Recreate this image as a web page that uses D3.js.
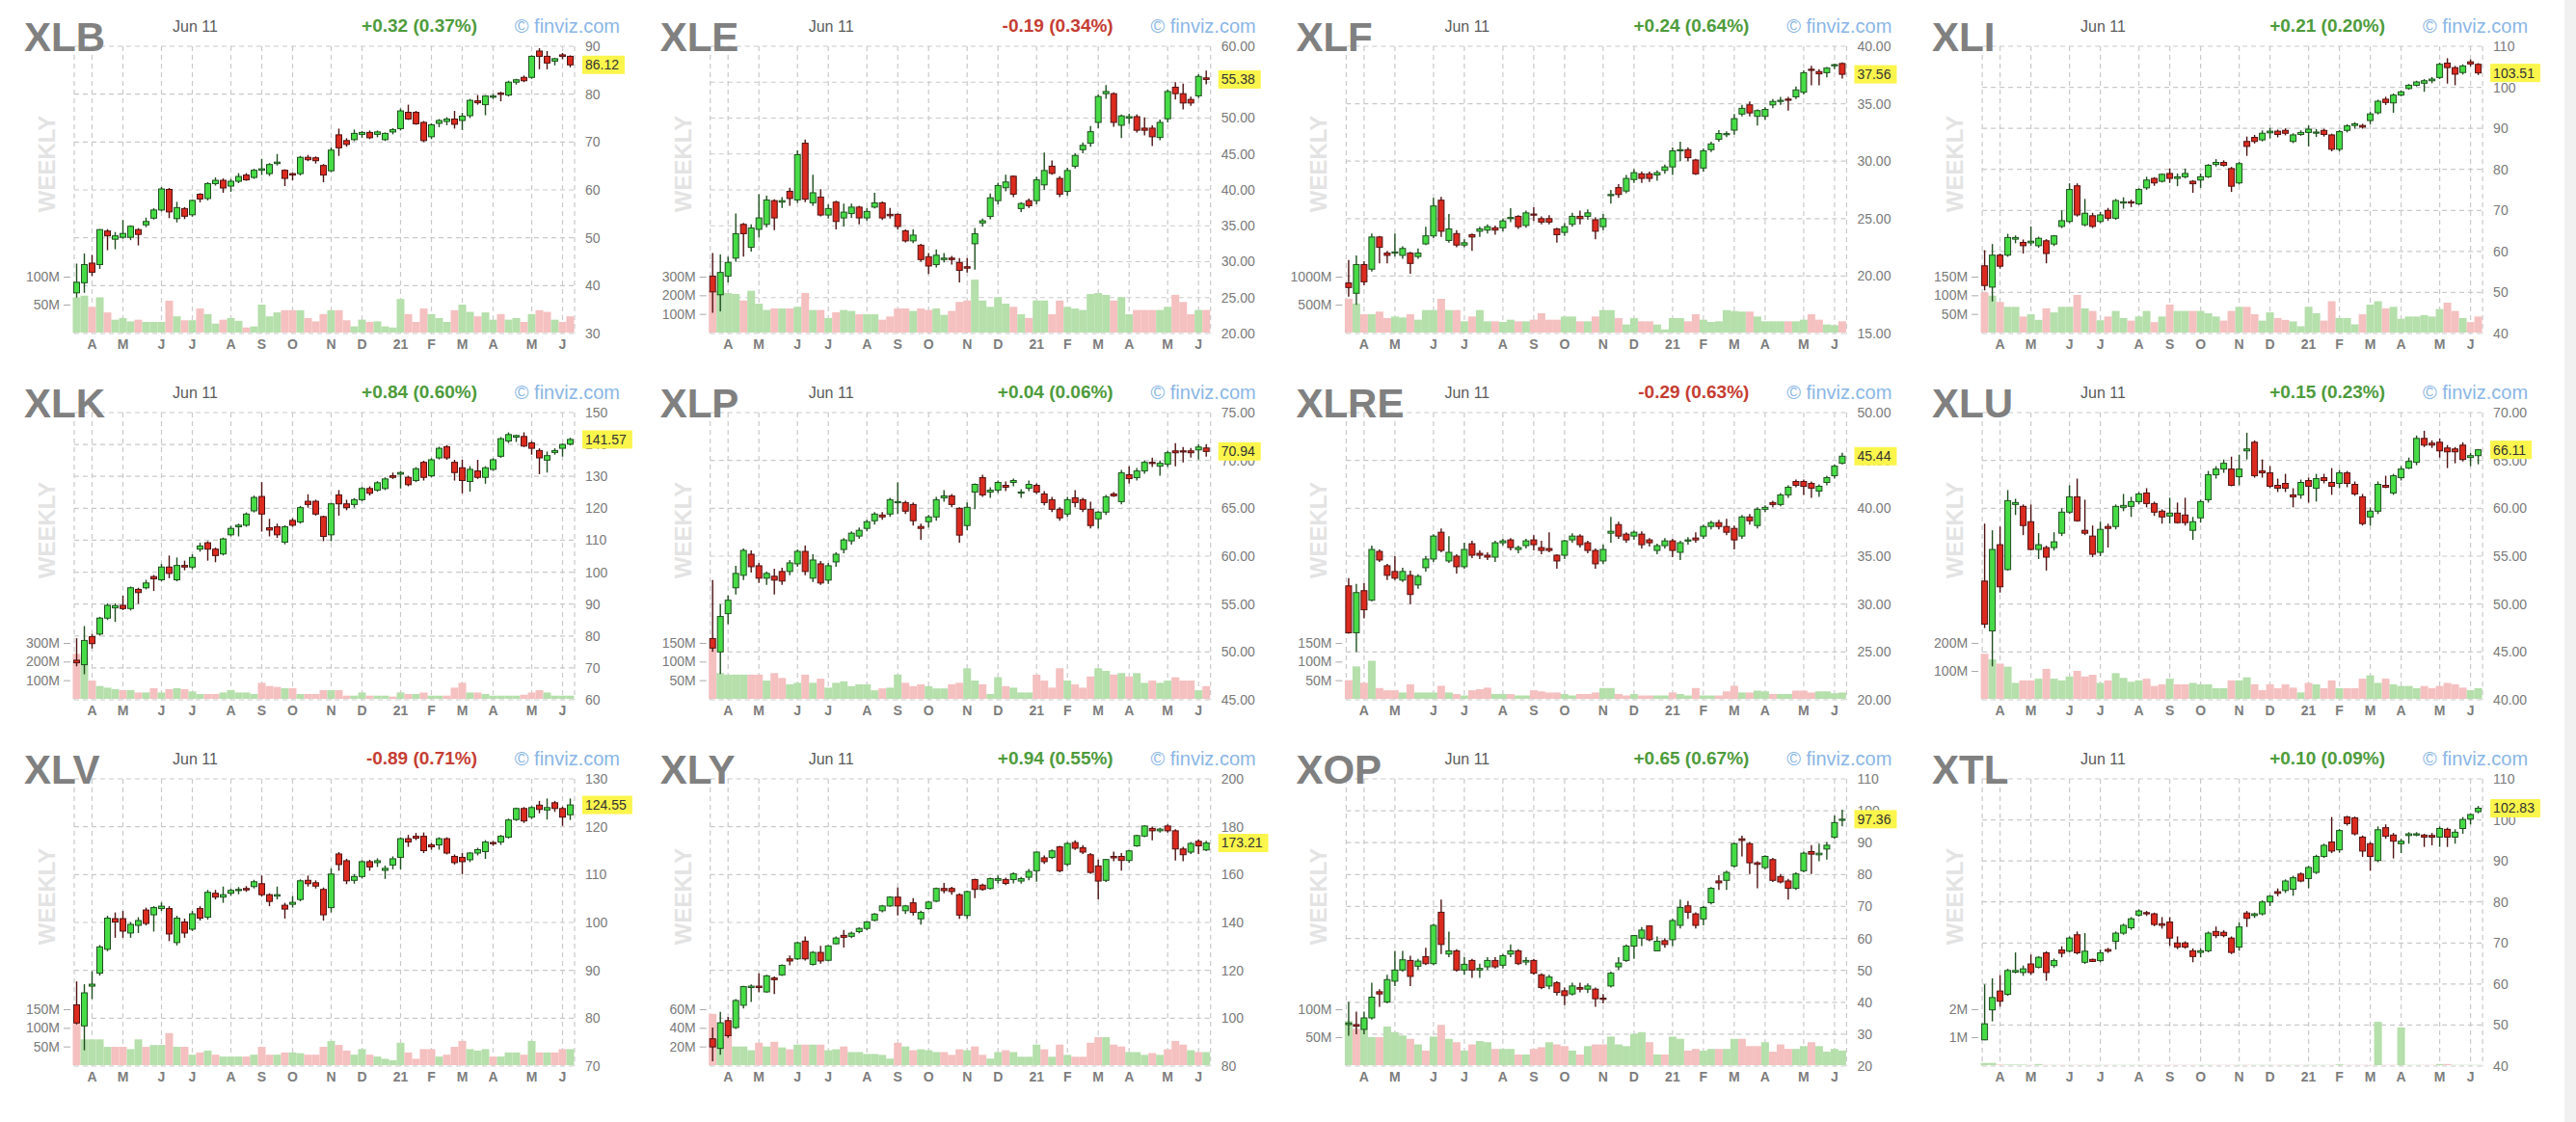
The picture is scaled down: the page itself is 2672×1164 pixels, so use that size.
<!DOCTYPE html>
<html>
<head>
<meta charset="utf-8">
<script src="https://cdn.jsdelivr.net/npm/d3@7"></script>
<style>
body { margin: 0; background: #fff; }
svg { display: block; }
</style>
</head>
<body>
<script>
const W = 2672;
const H = 1164;

// weekly bars, first Monday 2020-03-16, last Monday 2021-06-07
const firstWeek = new Date(2020, 2, 16);
const endWeek = new Date(2021, 5, 8);
const monthKeys = ["2020-03-30", "2020-04-27", "2020-06-01", "2020-06-29", "2020-08-03", "2020-08-31", "2020-09-28",
  "2020-11-02", "2020-11-30", "2021-01-04", "2021-02-01", "2021-03-01", "2021-03-29", "2021-05-03", "2021-05-31"];
const monthLabels = ["A", "M", "J", "J", "A", "S", "O", "N", "D", "21", "F", "M", "A", "M", "J"];

const tickers = ["XLB", "XLE", "XLF", "XLI", "XLK", "XLP", "XLRE", "XLU", "XLV", "XLY", "XOP", "XTL"];
const changes = ["+0.32 (0.37%)", "-0.19 (0.34%)", "+0.24 (0.64%)", "+0.21 (0.20%)", "+0.84 (0.60%)", "+0.04 (0.06%)",
  "-0.29 (0.63%)", "+0.15 (0.23%)", "-0.89 (0.71%)", "+0.94 (0.55%)", "+0.65 (0.67%)", "+0.10 (0.09%)"];
const priceTicks = [
  [30, 40, 50, 60, 70, 80, 90],
  [20, 25, 30, 35, 40, 45, 50, 55, 60],
  [15, 20, 25, 30, 35, 40],
  [40, 50, 60, 70, 80, 90, 100, 110],
  [60, 70, 80, 90, 100, 110, 120, 130, 140, 150],
  [45, 50, 55, 60, 65, 70, 75],
  [20, 25, 30, 35, 40, 45, 50],
  [40, 45, 50, 55, 60, 65, 70],
  [70, 80, 90, 100, 110, 120, 130],
  [80, 100, 120, 140, 160, 180, 200],
  [20, 30, 40, 50, 60, 70, 80, 90, 100, 110],
  [40, 50, 60, 70, 80, 90, 100, 110]
];
const priceDecimals = [0, 2, 2, 0, 0, 2, 2, 2, 0, 0, 0, 0];
const volTicks = [[50, 100], [100, 200, 300], [500, 1000], [50, 100, 150], [100, 200, 300], [50, 100, 150],
  [50, 100, 150], [100, 200], [50, 100, 150], [20, 40, 60], [50, 100], [1, 2]];

// [open, high, low, close, volume in M]
const xlb = [[38.5,44.6,37.5,40.7,63],[40.6,46.7,38.5,44.4,66],[44.7,46.4,42.0,42.8,46],[44.4,51.8,43.5,51.7,63],[51.4,51.8,47.4,50.4,36],
[49.7,51.2,47.6,50.4,23],[50.1,53.7,49.8,50.9,26],[50.1,52.6,49.5,52.4,20],[51.7,52.0,48.4,50.7,23],[52.7,54.2,52.2,53.4,19],
[54.1,56.2,53.8,55.8,19],[55.8,60.6,55.5,60.2,19],[60.1,60.4,54.1,55.4,57],[54.0,57.5,53.2,56.3,29],[56.1,56.4,53.9,54.5,22],
[54.8,58.0,54.4,57.8,22],[59.1,59.3,57.4,58.1,43],[58.2,61.6,57.8,61.3,33],[61.3,62.6,60.9,62.0,16],[62.0,62.4,59.4,60.4,23],
[60.8,62.3,59.6,61.8,26],[61.8,63.5,61.4,62.8,21],[63.1,63.5,61.9,62.1,9],[62.6,64.4,62.3,64.1,11],[64.1,66.5,63.1,64.4,50],
[63.4,65.6,62.9,65.3,29],[65.5,67.5,65.1,65.8,36],[64.1,64.3,60.8,62.4,40],[63.4,63.6,62.0,63.1,40],[63.4,67.1,63.0,66.8,40],
[66.8,67.3,66.0,66.3,26],[66.7,67.0,65.5,66.1,20],[65.1,65.4,61.6,63.1,33],[64.0,68.9,63.7,68.3,40],[71.5,72.8,67.1,68.8,40],
[70.3,70.8,69.0,69.5,22],[70.5,72.6,70.2,71.8,11],[71.6,72.3,70.9,72.0,23],[72.0,72.4,70.6,70.9,19],[71.6,72.4,71.0,72.1,20],
[70.5,72.0,70.2,71.8,11],[72.1,72.9,71.6,72.6,9],[72.8,77.0,72.4,76.5,60],[76.2,77.8,74.6,74.8,33],[76.2,76.5,73.6,73.8,19],
[74.1,74.4,70.0,70.3,43],[71.1,73.9,70.6,73.6,33],[73.9,74.8,73.1,74.5,26],[74.3,75.2,73.5,74.8,19],[74.8,76.5,72.8,73.7,40],
[74.5,76.1,72.5,75.4,50],[75.5,79.0,75.0,78.7,37],[78.6,79.8,77.8,78.2,29],[77.8,79.8,75.6,79.6,36],[79.4,80.0,79.0,79.6,23],
[80.2,80.5,78.5,80.0,33],[79.8,82.8,79.5,82.5,23],[82.5,83.2,82.0,83.0,26],[83.5,83.9,82.5,82.8,19],[83.5,88.1,83.2,87.9,33],
[89.0,89.6,85.2,87.9,40],[87.9,89.0,85.2,86.5,37],[86.9,87.6,86.0,87.4,23],[88.2,88.6,87.3,87.9,19],[87.9,88.1,85.6,86.12,29]];

const xle = [[28.0,31.2,22.9,25.8,224],[25.4,31.0,23.1,28.5,224],[28.0,30.7,27.1,29.9,212],[30.5,36.7,30.0,33.9,207],[35.2,35.4,30.7,33.9,172],
[32.0,35.2,31.4,34.7,224],[34.5,39.4,33.4,36.1,155],[35.2,39.2,34.8,38.6,121],[38.5,38.7,34.4,36.1,129],[38.3,39.0,37.5,38.5,129],
[39.8,40.3,37.8,38.8,129],[38.6,45.5,38.2,44.9,138],[46.5,47.0,38.3,38.7,212],[38.2,42.1,37.8,39.6,121],[39.0,40.1,36.3,36.5,121],
[36.5,38.0,36.0,37.4,78],[38.3,38.5,34.5,35.6,109],[36.1,38.1,34.9,36.9,121],[36.7,38.1,36.1,37.6,116],[37.6,37.8,35.2,36.1,98],
[36.1,37.5,35.7,37.0,98],[37.6,39.6,37.4,38.2,98],[38.2,38.4,35.8,36.1,69],[36.6,37.5,36.0,36.4,86],[36.6,36.7,34.5,34.9,129],
[34.3,34.5,32.7,32.9,129],[32.9,34.5,32.6,33.7,116],[32.3,32.5,30.0,30.3,129],[30.7,31.2,28.3,29.4,121],[29.6,31.7,29.2,30.9,129],
[30.3,31.2,29.9,30.5,95],[30.5,30.8,29.6,30.3,116],[29.9,30.5,27.1,28.8,164],[29.3,30.5,28.5,29.1,172],[32.5,34.7,28.9,33.9,284],
[35.4,36.0,34.9,35.7,172],[36.3,39.5,35.9,38.9,138],[38.5,41.0,38.0,40.6,190],[40.3,42.1,39.8,41.1,155],[41.9,42.0,39.0,39.4,138],
[37.4,38.3,36.9,38.1,98],[38.5,38.8,37.5,37.8,78],[38.5,41.8,38.0,41.4,172],[40.7,45.2,40.0,42.7,172],[43.3,44.1,42.1,42.3,98],
[41.6,41.9,39.0,39.4,172],[39.8,43.1,39.2,42.7,138],[43.3,45.1,43.0,44.8,129],[45.6,46.6,45.1,46.2,121],[46.5,48.9,46.0,48.1,207],
[49.4,53.3,48.6,53.0,212],[53.4,54.6,52.7,53.7,202],[53.4,53.6,48.8,49.4,172],[49.0,50.5,47.2,50.3,190],[50.0,50.6,49.2,50.2,98],
[50.2,50.5,48.0,48.3,121],[48.6,50.1,47.6,48.3,121],[48.6,49.0,46.1,47.4,121],[47.3,49.8,46.9,49.4,121],[49.9,54.0,49.4,53.7,138],
[54.3,55.0,52.6,53.4,202],[53.4,54.8,51.2,52.1,164],[52.6,53.0,51.7,52.1,98],[53.1,56.1,52.8,55.8,121],[55.6,56.6,54.7,55.38,121]];

const xlf = [[19.4,21.4,18.2,19.0,605],[18.5,21.8,17.5,21.0,520],[21.0,21.3,19.2,19.5,328],[20.6,23.7,20.4,23.4,328],[23.4,23.5,21.1,22.5,374],
[22.0,22.2,21.1,21.8,259],[22.0,23.7,21.7,22.1,287],[21.8,22.6,21.5,22.4,270],[22.0,22.1,20.2,21.1,328],[21.7,22.4,21.5,22.0,230],
[22.8,24.3,22.7,23.5,402],[23.5,26.8,23.3,26.1,402],[26.6,26.9,23.4,23.9,603],[23.1,25.4,22.9,24.1,402],[23.7,24.0,22.5,22.7,402],
[22.7,23.2,22.5,22.9,201],[23.6,23.7,22.2,23.4,287],[23.9,24.3,23.4,24.1,402],[24.0,24.5,23.7,24.3,201],[24.2,24.4,23.6,24.0,201],
[24.2,25.0,23.9,24.8,190],[25.0,25.9,24.7,25.1,230],[25.2,25.3,24.1,24.3,201],[24.4,25.7,24.2,25.5,201],[25.4,26.0,24.8,25.3,230],
[25.0,25.2,24.5,24.7,345],[25.0,25.3,24.5,24.7,230],[24.1,24.2,22.9,23.6,230],[23.8,24.6,23.5,24.3,287],[24.5,25.5,24.3,25.2,287],
[25.2,25.7,24.5,25.0,201],[25.2,25.8,24.9,25.5,201],[24.9,25.1,23.2,23.9,287],[24.3,25.4,24.0,25.0,402],[27.0,27.5,26.3,27.1,402],
[27.7,28.0,26.8,27.1,259],[27.4,28.8,27.2,28.5,144],[28.4,29.3,28.1,29.0,259],[28.9,29.1,28.1,28.5,201],[28.9,29.1,28.2,28.5,201],
[28.8,29.2,28.3,29.0,144],[29.2,29.7,28.9,29.5,57],[29.5,31.2,28.8,30.9,259],[30.9,31.7,30.0,31.0,259],[31.0,31.2,30.0,30.3,201],
[30.1,30.2,28.8,28.9,328],[29.4,31.1,29.1,30.9,230],[31.0,31.7,30.8,31.5,190],[31.9,32.7,31.7,32.4,201],[32.3,32.6,32.1,32.4,402],
[32.7,34.1,32.3,33.7,385],[34.1,34.9,33.9,34.6,374],[34.9,35.2,33.9,34.2,374],[33.9,34.5,33.1,34.4,287],[33.9,34.7,33.6,34.5,201],
[34.9,35.4,34.6,35.2,201],[35.2,35.6,34.9,35.3,201],[35.4,35.6,34.4,35.3,201],[35.6,36.5,35.4,36.2,201],[36.0,37.9,35.8,37.7,230],
[38.0,38.3,36.6,37.9,328],[37.8,38.0,36.6,37.6,230],[37.7,38.2,37.3,38.1,144],[38.3,38.5,38.0,38.4,132],[38.5,38.6,37.2,37.56,201]];

const xli = [[56.5,60.3,50.5,51.7,108],[51.3,61.8,47.8,59.1,99],[59.1,59.5,55.8,56.4,82],[59.1,64.3,58.7,63.4,69],[63.0,63.9,62.0,63.4,69],
[62.2,62.9,59.5,61.4,43],[62.1,66.1,61.4,62.5,49],[61.4,63.6,60.9,63.2,34],[62.6,63.0,57.1,59.5,65],[61.8,64.0,61.3,63.8,54],
[66.1,70.0,65.7,67.5,69],[67.3,76.6,66.9,75.1,69],[76.0,76.6,68.5,68.9,101],[66.5,72.8,66.1,69.3,65],[68.7,69.4,65.7,66.1,58],
[67.3,69.6,66.9,68.9,33],[70.0,70.6,67.5,68.1,43],[68.1,72.8,67.7,72.4,58],[71.8,73.2,70.4,72.1,39],[72.1,72.6,70.8,71.8,32],
[71.6,75.4,71.3,75.1,43],[75.5,78.2,75.0,77.4,58],[77.8,78.1,76.0,76.7,28],[77.1,79.0,76.8,78.8,43],[79.0,80.2,76.7,77.8,75],
[77.8,79.0,75.9,78.2,58],[78.2,80.2,77.8,79.0,58],[77.1,77.4,74.3,76.5,58],[77.4,79.0,75.5,78.2,58],[78.2,81.3,77.9,81.0,52],
[81.2,82.5,80.7,81.7,43],[81.7,82.2,80.7,81.0,32],[80.2,80.6,74.5,75.9,58],[76.7,81.8,76.3,81.4,69],[86.8,88.0,83.3,85.6,69],
[87.8,88.4,86.3,86.8,49],[87.2,89.5,86.8,88.8,32],[88.9,90.1,87.5,89.3,54],[89.3,89.7,87.8,88.5,39],[89.5,90.0,88.3,88.8,34],
[86.8,88.8,86.4,88.4,30],[88.5,89.5,88.2,89.0,17],[89.0,90.7,85.6,89.8,69],[88.9,89.8,87.9,89.1,52],[89.5,89.9,88.0,88.5,32],
[88.4,88.7,84.4,84.9,84],[84.9,89.6,84.4,89.2,39],[89.5,91.0,89.0,90.6,39],[90.7,91.5,89.9,91.1,22],[90.7,91.1,89.9,90.3,49],
[91.9,94.0,91.0,93.5,75],[93.8,97.0,93.4,96.6,84],[97.1,97.7,95.7,96.3,65],[96.2,98.5,93.8,98.1,69],[98.1,99.2,97.8,98.9,37],
[99.7,100.8,99.4,100.5,43],[100.5,101.6,100.2,101.3,43],[101.0,102.0,98.9,101.6,47],[101.6,102.5,101.0,102.0,43],[102.4,106.0,102.0,105.6,63],
[105.9,107.1,100.9,104.8,80],[104.8,105.2,100.5,103.2,58],[103.6,105.6,103.1,105.2,39],[106.2,106.8,105.1,105.7,28],[105.6,105.9,103.0,103.51,43]];

const xlk = [[72.4,79.3,70.5,71.6,241],[71.0,83.1,68.0,78.6,224],[79.8,80.6,76.1,77.6,98],[80.6,86.0,80.1,85.6,69],[85.6,90.2,85.0,89.6,60],
[88.8,90.2,84.4,89.5,52],[89.6,92.6,88.1,88.6,47],[88.6,95.5,88.0,95.1,47],[94.6,95.1,90.1,93.6,34],[95.1,97.6,94.6,96.6,34],
[98.6,99.1,94.1,97.9,57],[97.6,102.6,97.1,101.6,34],[101.6,105.2,98.1,99.6,52],[97.6,104.6,97.1,102.1,57],[102.1,103.6,100.6,101.6,52],
[101.6,105.6,100.9,104.6,40],[107.2,109.2,106.4,108.2,26],[109.2,109.7,103.6,107.2,26],[107.2,107.7,103.1,105.2,26],[105.7,110.8,105.2,110.4,34],
[111.7,114.5,111.2,113.7,47],[114.2,115.2,111.2,114.7,34],[114.7,118.7,114.2,118.2,34],[119.2,124.0,118.7,123.4,26],[123.7,128.2,112.7,118.2,86],
[113.9,116.7,111.2,113.2,69],[114.2,115.2,110.7,111.7,64],[109.4,114.7,108.7,114.2,57],[116.2,116.9,114.2,114.7,57],[115.7,120.7,115.2,120.2,26],
[122.2,124.4,120.2,121.2,26],[122.2,122.7,117.7,118.2,26],[117.4,117.7,109.7,111.2,47],[111.7,121.7,109.7,121.4,47],[124.2,125.7,117.7,121.4,47],
[121.4,122.7,119.4,120.2,17],[121.2,123.2,120.2,122.7,17],[122.7,126.7,122.2,126.2,34],[126.2,126.9,124.0,124.7,17],[125.7,128.5,125.2,128.0,17],
[126.2,129.7,125.7,129.2,17],[130.2,131.2,129.2,129.7,12],[130.7,131.7,126.2,131.2,34],[129.7,130.2,126.9,127.4,26],[128.7,132.9,128.2,132.4,26],
[134.4,134.9,128.7,129.7,34],[130.2,135.7,129.7,135.2,17],[135.8,139.3,135.3,138.8,17],[139.3,139.8,135.2,135.8,17],[134.4,135.2,128.7,131.2,60],
[132.7,135.2,124.7,128.7,86],[128.4,133.2,125.2,132.2,34],[131.7,135.2,129.2,129.7,34],[129.7,133.2,127.7,132.7,26],[132.2,135.7,131.7,135.2,17],
[136.3,142.3,135.8,141.8,17],[141.1,143.8,140.4,143.1,17],[142.3,143.1,140.8,142.8,17],[142.5,143.8,139.2,139.5,22],[140.5,141.1,136.8,138.8,34],
[138.1,138.8,130.7,135.8,47],[135.1,137.8,131.2,136.5,34],[137.5,138.8,136.8,138.1,17],[138.8,140.3,136.2,140.0,17],[140.1,142.1,139.7,141.57,17]];

const xlp = [[51.4,57.5,50.0,50.4,134],[50.0,55.0,47.7,53.7,69],[54.0,55.9,52.9,55.4,65],[56.7,59.0,56.0,58.2,65],[58.0,60.8,57.5,60.6,65],
[60.2,60.6,58.3,58.9,65],[59.0,59.3,57.2,57.7,65],[57.7,58.4,57.0,58.2,49],[57.9,58.7,56.0,57.5,69],[58.4,58.8,57.0,57.4,56],
[58.4,59.6,58.0,59.3,39],[59.2,60.7,58.9,60.5,43],[60.5,61.1,58.0,58.4,65],[57.7,60.2,57.3,59.6,43],[59.2,59.5,57.0,57.2,54],
[57.5,59.3,57.1,59.0,30],[59.4,60.4,58.9,60.2,43],[60.7,61.9,60.3,61.7,47],[61.6,62.6,61.2,62.4,34],[62.1,63.0,61.8,62.7,39],
[62.9,63.8,62.6,63.6,39],[63.7,64.6,63.3,64.4,23],[64.3,64.6,63.8,64.1,28],[64.4,66.1,64.1,65.9,30],[65.6,67.7,64.4,65.7,65],
[65.6,65.8,64.4,64.7,43],[65.4,65.6,63.2,63.7,34],[63.1,63.4,61.7,62.9,39],[63.6,64.3,63.0,64.1,34],[64.1,66.2,63.7,65.9,28],
[66.1,66.9,65.7,66.3,28],[66.3,66.5,65.1,65.4,39],[65.0,65.1,61.4,62.2,43],[63.2,65.6,62.7,65.1,82],[66.7,67.6,64.9,67.5,49],
[68.2,68.5,66.2,66.4,39],[66.7,67.2,66.1,66.9,13],[66.9,67.9,66.6,67.7,58],[67.4,67.8,66.8,67.2,34],[67.7,68.1,67.3,67.9,30],
[66.6,67.0,66.1,66.7,17],[67.1,67.9,66.8,67.5,17],[67.4,67.6,66.5,66.7,65],[66.5,66.8,65.3,65.6,49],[65.9,66.2,64.6,64.9,30],
[64.9,65.1,63.7,64.0,82],[64.4,66.2,64.1,65.9,49],[66.1,66.9,65.1,65.6,39],[65.9,66.1,64.6,64.9,30],[64.9,65.7,62.9,63.2,60],
[63.9,64.7,62.9,64.6,82],[64.6,66.4,64.3,66.2,75],[66.5,66.7,66.2,66.3,65],[65.7,69.0,65.4,68.7,69],[68.5,69.4,67.6,68.1,60],
[68.2,69.2,67.9,68.9,69],[68.9,70.0,68.6,69.8,43],[69.8,70.3,69.3,69.7,49],[69.4,70.0,68.4,69.7,43],[69.6,71.0,69.3,70.8,49],
[71.0,71.8,69.4,70.8,58],[71.0,71.4,69.8,70.9,49],[71.0,71.3,70.3,70.8,49],[71.1,71.7,70.1,71.4,23],[71.3,71.7,70.4,70.94,34]];

const xlre = [[31.9,32.7,26.9,27.0,50],[27.0,32.1,25.0,31.2,87],[31.4,32.2,28.5,29.4,43],[30.4,36.1,30.3,35.7,102],[35.5,35.7,34.4,34.6,29],
[34.0,34.2,32.5,33.0,23],[33.4,35.0,32.5,32.7,23],[32.5,33.8,32.3,33.4,17],[33.0,33.5,30.0,31.0,39],[32.0,33.1,31.6,32.9,17],
[33.8,35.0,33.4,34.7,17],[34.7,37.3,34.4,37.1,17],[37.5,37.9,35.4,35.6,35],[34.5,37.1,34.3,35.4,17],[35.0,35.2,33.2,33.9,13],
[33.9,36.4,33.7,35.7,9],[36.3,36.6,34.8,35.1,23],[35.3,35.6,34.7,35.1,26],[35.1,35.4,34.6,34.9,30],[34.9,36.6,34.4,36.4,13],
[36.4,36.8,36.1,36.6,13],[36.7,36.9,35.6,35.9,13],[35.7,36.1,35.3,35.9,9],[36.1,36.8,35.8,36.6,9],[36.7,37.2,35.6,36.2,23],
[35.9,36.6,35.2,35.6,20],[35.8,37.5,35.4,35.6,17],[35.1,35.2,33.7,34.5,17],[35.1,36.7,34.7,36.6,13],[36.7,37.4,36.4,37.1,9],
[37.1,37.3,35.9,36.2,13],[36.4,36.6,35.3,35.6,13],[35.6,35.8,33.7,34.2,17],[34.5,36.2,34.2,35.7,29],[37.4,39.1,36.4,37.6,29],
[38.3,38.6,36.8,37.1,13],[37.3,37.5,36.4,36.7,9],[37.1,37.7,36.7,37.5,13],[37.3,37.6,35.8,36.2,9],[36.7,36.9,36.0,36.4,9],
[35.6,36.3,35.2,36.1,9],[36.1,36.9,35.8,36.6,9],[36.6,36.8,34.9,35.6,17],[35.4,36.6,34.6,36.4,13],[36.6,37.0,36.2,36.7,9],
[36.9,37.5,36.4,36.7,29],[37.1,38.3,36.8,38.1,9],[38.1,38.7,37.8,38.5,9],[38.5,38.8,37.8,38.1,9],[38.1,38.9,37.2,37.5,20],
[37.9,38.2,35.7,36.7,35],[37.1,39.3,36.8,39.1,17],[39.1,39.4,38.3,38.7,17],[38.2,40.1,37.9,39.9,22],[39.9,40.3,39.6,40.1,20],
[40.6,40.8,40.1,40.4,13],[40.4,41.6,40.2,41.4,13],[41.4,42.4,41.1,42.2,13],[42.8,43.0,42.2,42.4,22],[42.8,43.0,41.4,42.3,22],
[42.6,42.8,41.1,42.1,17],[41.8,42.5,41.2,42.3,20],[42.7,43.4,42.4,43.2,20],[43.4,44.6,43.1,44.4,15],[44.7,45.8,44.6,45.44,17]];

const xlu = [[52.4,58.4,47.5,47.9,161],[47.2,57.7,43.5,55.7,141],[56.2,58.1,51.2,51.8,126],[53.6,61.9,53.5,60.8,115],[60.4,61.0,59.3,60.6,57],
[60.2,60.4,57.2,58.2,66],[58.6,60.4,55.6,55.7,66],[55.7,57.4,54.7,56.2,72],[55.9,56.1,53.5,54.9,107],[55.9,57.5,55.6,56.5,72],
[57.4,60.0,57.1,59.6,66],[59.6,62.4,59.4,61.2,80],[61.2,63.1,58.6,58.7,100],[57.7,60.9,57.2,57.4,80],[57.1,58.2,54.9,55.2,86],
[55.4,58.6,55.0,57.8,57],[58.1,58.4,55.9,57.9,66],[58.1,60.4,57.8,60.2,92],[60.1,61.5,59.7,60.3,75],[60.2,61.2,59.1,60.7,61],
[60.7,61.7,60.4,61.5,66],[61.6,62.1,60.1,60.5,72],[60.5,60.7,59.2,59.6,46],[59.7,59.9,58.4,59.1,52],[59.2,61.1,58.4,59.5,72],
[59.5,60.6,58.4,58.5,52],[59.3,61.1,58.2,58.5,52],[57.7,59.1,56.7,58.6,57],[59.0,60.9,58.5,60.7,52],[60.9,63.9,60.6,63.5,52],
[63.5,64.4,63.1,64.1,38],[64.1,65.1,63.7,64.7,38],[64.1,65.4,62.3,62.4,66],[63.3,65.6,62.4,64.1,66],[66.0,67.9,65.1,66.2,77],
[66.9,67.1,63.2,63.4,52],[63.9,65.1,63.2,63.7,31],[63.7,64.4,62.1,62.3,52],[62.4,63.1,61.7,62.1,38],[62.6,63.6,61.7,62.1,52],
[61.4,62.1,60.1,61.2,40],[61.4,63.0,61.0,62.7,23],[62.9,63.2,60.6,62.3,57],[62.1,63.6,60.7,63.1,52],[63.2,63.6,62.6,62.9,38],
[62.7,64.2,61.4,62.3,66],[62.6,64.0,62.1,63.7,38],[63.7,63.9,62.2,62.6,38],[62.5,62.8,61.3,61.5,38],[61.2,61.5,58.2,58.4,72],
[59.1,60.1,58.2,59.7,84],[59.7,62.8,59.4,62.5,57],[62.4,63.4,62.1,62.2,72],[61.6,63.6,61.4,63.4,52],[63.2,64.4,62.9,64.1,46],
[64.2,65.3,64.1,64.9,46],[64.8,67.6,64.5,67.3,38],[67.3,68.1,66.4,66.6,46],[66.8,67.1,66.3,66.6,38],[66.9,67.3,65.3,66.0,46],
[66.3,66.6,64.2,65.9,57],[66.2,66.4,64.7,65.9,52],[66.6,66.9,64.9,65.1,40],[65.3,65.8,64.4,65.5,31],[65.5,66.2,64.6,66.11,38]];

const xlv = [[82.8,87.7,78.7,79.0,112],[78.4,87.1,73.3,85.3,69],[86.7,89.8,84.0,87.1,69],[89.4,95.3,88.9,94.9,69],[94.4,101.4,94.0,100.9,49],
[100.8,102.1,96.8,100.1,49],[100.8,102.4,96.8,98.2,49],[97.8,100.1,96.8,99.6,43],[99.4,101.1,97.8,100.4,69],[102.6,103.1,99.4,99.8,49],
[101.6,103.4,98.1,103.1,54],[102.9,104.2,102.4,103.4,54],[102.9,103.4,96.1,97.6,86],[95.8,101.4,95.2,100.9,49],[100.1,100.8,96.8,97.8,49],
[98.6,102.4,98.2,101.8,28],[102.9,103.4,100.4,100.9,34],[101.1,106.8,100.6,106.3,39],[106.1,106.8,104.8,105.3,28],[105.3,107.5,104.1,105.8,23],
[106.1,107.1,105.6,106.7,23],[106.7,107.4,105.9,106.9,23],[107.1,107.6,106.4,106.8,23],[107.5,108.9,107.1,108.5,28],[108.1,109.8,105.4,105.8,49],
[105.8,106.1,103.4,104.4,28],[105.5,107.5,104.8,105.8,28],[103.6,104.1,100.8,102.8,34],[103.8,105.5,103.1,104.2,34],[104.8,109.0,104.4,108.7,32],
[108.8,109.8,107.5,108.1,28],[108.3,108.8,107.1,107.6,28],[106.9,107.3,100.4,101.6,49],[103.1,111.3,102.1,110.1,65],[114.3,114.7,110.8,112.1,54],
[112.9,113.3,108.0,108.7,39],[108.8,110.1,108.1,109.6,28],[109.6,113.0,109.2,112.7,43],[112.7,113.1,110.8,111.6,28],[112.5,113.4,111.6,112.9,23],
[110.9,111.9,109.1,111.3,17],[112.0,113.8,111.1,113.3,13],[113.6,117.8,111.1,117.5,60],[117.5,118.3,115.8,116.8,34],[118.0,118.7,117.2,117.6,17],
[118.0,118.8,114.5,115.0,43],[116.2,116.6,115.2,115.8,43],[116.2,117.8,115.2,117.5,23],[117.5,117.8,114.2,114.5,28],[113.8,114.2,112.1,112.5,49],
[113.6,114.5,110.1,112.7,65],[113.1,114.7,112.6,114.5,43],[114.5,115.6,114.0,115.2,39],[114.8,117.2,113.3,116.8,43],[116.7,117.0,116.0,116.5,23],
[116.8,118.3,116.2,118.0,23],[117.8,121.7,117.5,121.4,34],[121.5,124.0,121.2,123.8,34],[123.8,124.1,120.8,121.2,28],[122.0,124.3,121.6,124.0,65],
[124.5,125.4,122.8,123.6,34],[123.5,125.9,121.5,124.0,34],[125.0,125.4,123.1,123.8,34],[123.8,124.2,120.2,122.0,43],[122.5,125.9,121.4,124.55,43]];

const xly = [[91.4,96.1,82.0,88.0,55],[87.4,102.7,84.7,98.1,28],[99.0,100.5,91.8,92.7,34],[96.1,108.0,95.5,107.4,20],[105.4,113.5,104.1,113.2,20],
[112.8,114.1,106.8,113.4,16],[113.4,118.8,110.8,112.8,24],[111.0,118.2,110.6,117.7,20],[116.8,117.5,110.1,116.1,25],[118.1,122.5,117.7,122.1,19],
[124.8,126.2,122.1,123.9,17],[124.8,132.0,124.3,131.5,22],[132.2,134.2,124.1,124.8,22],[122.5,128.0,122.0,127.5,22],[127.5,130.2,122.8,123.9,22],
[124.2,130.5,123.8,130.2,16],[131.1,134.2,130.8,133.5,17],[134.6,136.9,129.5,133.8,20],[134.2,136.2,133.5,135.5,14],[136.2,138.0,135.5,137.5,14],
[137.5,140.6,136.8,140.2,12],[140.9,143.9,140.5,143.5,12],[144.9,147.3,144.2,146.9,11],[146.9,151.0,146.5,150.6,7],[150.6,154.6,142.9,146.9,24],
[144.9,147.3,143.5,146.9,20],[148.2,150.2,142.9,144.2,16],[141.5,144.9,139.1,144.2,17],[145.8,149.0,145.4,148.5,16],[148.9,154.6,148.5,154.2,14],
[154.2,156.5,152.2,153.3,14],[154.2,154.9,151.6,152.9,11],[151.6,152.2,141.5,143.1,17],[142.9,153.3,141.5,152.9,16],[157.9,158.3,150.2,153.8,20],
[155.6,156.2,153.3,153.8,11],[154.2,158.7,153.8,158.3,7],[157.6,159.6,156.3,158.3,14],[157.9,158.7,155.6,156.3,16],[157.9,160.9,156.3,160.3,14],
[157.3,159.0,156.2,158.3,9],[158.9,162.3,157.6,161.3,9],[161.6,169.6,157.0,169.4,22],[167.0,168.0,164.5,165.4,17],[167.2,170.5,166.6,169.9,9],
[171.6,172.0,160.9,161.6,22],[164.3,173.6,163.6,173.0,11],[173.4,174.3,170.3,171.0,9],[171.2,172.3,168.6,169.4,9],[168.3,169.0,160.3,160.9,24],
[163.6,166.3,149.6,157.3,30],[157.6,166.6,156.9,166.3,30],[167.6,169.6,165.6,167.0,22],[167.6,169.0,161.6,165.9,20],[165.9,170.3,164.9,169.9,14],
[172.0,176.6,171.6,176.3,14],[176.1,180.7,175.6,180.3,11],[179.3,180.1,174.3,178.3,13],[178.3,179.6,177.6,179.0,11],[180.3,181.0,177.6,178.3,17],
[178.3,179.0,165.9,170.7,26],[170.7,171.6,165.6,168.3,22],[169.4,173.6,168.6,173.0,16],[173.9,174.7,168.6,172.0,14],[170.3,174.1,169.8,173.21,14]];

const xop = [[33.0,40.1,29.5,33.5,79],[33.0,37.1,30.0,32.5,65],[31.5,37.1,30.0,35.1,81],[35.1,46.1,34.6,41.6,50],[43.3,44.1,38.6,42.6,50],
[40.1,48.6,39.6,47.1,69],[46.6,56.1,45.1,50.1,59],[50.1,56.1,49.6,53.3,53],[53.1,54.6,45.1,48.1,47],[51.3,53.6,50.1,52.9,37],
[54.3,57.1,51.6,52.1,26],[52.1,64.6,51.6,64.1,51],[68.2,72.2,55.1,58.1,72],[55.1,62.1,54.1,56.1,47],[56.1,56.6,49.6,50.1,41],
[50.1,54.1,48.6,51.9,26],[53.1,53.6,47.6,50.1,37],[50.1,52.1,47.6,50.6,43],[51.1,54.1,50.1,53.1,41],[53.1,54.1,50.6,51.1,29],
[51.6,55.1,50.6,54.6,29],[55.1,58.1,54.1,56.1,29],[56.1,56.6,51.6,52.1,19],[52.6,54.1,51.6,53.1,19],[53.1,53.6,48.6,49.1,29],
[48.6,49.1,44.1,44.6,32],[45.1,48.6,44.1,47.9,41],[46.1,46.6,42.1,43.1,37],[43.6,44.6,39.1,42.1,34],[42.6,46.1,42.1,45.1,26],
[44.6,46.1,43.1,44.1,19],[44.1,45.9,42.9,45.1,34],[44.1,44.6,38.6,41.1,37],[41.3,42.6,39.6,40.9,37],[45.1,49.6,44.6,49.1,51],
[51.1,54.1,50.1,52.3,37],[53.1,58.1,52.6,57.6,34],[57.6,61.1,53.6,60.9,56],[60.1,63.6,57.6,62.6,59],[63.9,64.1,59.1,59.6,41],
[56.1,60.6,56.0,59.1,19],[59.3,60.1,57.1,58.1,19],[59.6,66.1,57.6,65.6,51],[64.1,72.2,63.1,69.7,47],[70.2,71.7,66.1,68.2,26],
[67.7,68.2,63.1,64.1,29],[66.1,70.2,64.1,69.7,26],[71.2,76.1,70.7,75.7,29],[78.0,79.8,75.2,77.4,29],[78.2,81.2,75.2,80.7,29],
[82.7,90.1,82.2,89.7,47],[91.2,92.2,85.7,90.7,47],[89.7,90.2,80.2,83.7,34],[83.7,84.2,75.7,83.2,34],[82.2,86.1,81.7,85.7,41],
[84.7,85.2,77.7,78.2,24],[79.4,80.2,77.2,77.7,37],[78.0,78.7,72.2,75.7,29],[75.7,80.7,75.2,80.2,29],[81.2,87.2,80.7,86.7,34],
[87.2,89.2,80.2,86.4,41],[86.2,89.7,84.2,86.7,34],[88.0,90.2,84.7,89.2,24],[91.7,98.5,91.2,96.3,29],[97.0,100.3,95.1,97.36,26]];

const xtl = [[46.4,59.9,46.3,50.3,0.08],[53.7,61.4,50.9,56.7,0.08],[58.3,62.2,54.5,55.8,0.02],[57.5,63.7,57.1,63.3,0.02],[62.9,67.7,62.6,63.3,0.02],
[62.8,64.5,62.0,63.7,0.02],[64.9,67.2,62.2,62.8,0.01],[64.1,66.8,63.8,66.5,0.04],[67.6,68.0,60.8,62.8,0.01],[64.5,66.2,64.0,65.7,0.01],
[68.3,69.2,66.5,67.5,0.01],[68.0,71.6,67.7,71.2,0.01],[72.0,72.8,67.2,67.6,0.01],[65.3,72.4,64.9,68.0,0.01],[66.0,66.2,65.4,65.5,0.01],
[65.7,68.4,65.3,67.6,0.01],[68.4,68.8,67.6,68.0,0.01],[70.4,72.8,68.4,72.4,0.01],[72.4,74.7,72.0,74.3,0.01],[73.7,76.3,73.2,75.9,0.01],
[76.8,78.2,76.4,77.8,0.01],[77.4,77.8,76.6,77.1,0.01],[77.1,77.4,74.1,74.5,0.01],[74.7,76.3,73.5,74.3,0.01],[75.1,76.3,69.3,71.2,0.01],
[70.0,71.6,68.5,69.0,0.01],[70.0,70.4,68.6,69.0,0.01],[68.1,68.7,65.3,66.7,0.01],[67.7,68.7,66.5,68.1,0.01],[68.1,72.8,67.7,72.4,0.01],
[72.8,74.0,71.2,71.8,0.01],[72.6,73.1,71.4,71.8,0.01],[71.2,71.6,67.3,67.7,0.01],[69.0,75.0,68.1,73.9,0.01],[77.3,77.8,73.9,76.0,0.01],
[76.7,77.4,76.1,77.1,0.01],[77.1,80.4,76.7,80.0,0.01],[80.0,81.7,79.0,81.4,0.01],[82.5,83.3,81.4,82.1,0.01],[82.8,85.5,82.2,85.1,0.01],
[83.1,86.4,81.5,85.9,0.01],[86.8,87.2,84.8,85.1,0.01],[85.7,88.8,83.3,88.4,0.01],[87.2,91.5,86.8,91.1,0.01],[91.1,94.2,90.7,93.8,0.01],
[94.6,100.7,91.9,92.4,0.01],[92.7,97.8,92.0,97.4,0.03],[100.7,101.0,98.6,99.1,0.01],[100.5,100.8,96.2,96.6,0.01],[95.8,96.2,91.0,92.4,0.01],
[94.2,94.6,87.6,91.1,0.01],[90.1,98.4,89.7,97.6,1.55],[98.1,98.9,95.4,96.0,0.01],[96.3,96.8,90.6,94.8,0.01],[94.2,95.4,91.9,94.8,1.35],
[96.2,97.0,94.2,96.6,0.01],[96.3,97.0,96.0,96.6,0.01],[96.3,96.6,93.4,95.8,0.01],[96.2,96.8,93.8,95.8,0.01],[95.8,98.4,93.4,97.9,0.04],
[97.7,98.1,93.4,95.8,0.04],[95.8,97.7,94.2,97.0,0.01],[97.9,100.7,96.6,100.1,0.01],[100.2,101.6,98.9,101.3,0.01],[102.0,103.4,101.6,102.83,0.01]];

const series = [xlb, xle, xlf, xli, xlk, xlp, xlre, xlu, xlv, xly, xop, xtl];

const FONT = "Arial, 'Liberation Sans', Helvetica, sans-serif";
const colW = 659.7;
const rowH = 380;

const svg = d3.select("body").append("svg")
  .attr("width", W)
  .attr("height", H)
  .style("font-family", FONT);

svg.append("rect").attr("width", W).attr("height", H).attr("fill", "#fff");
svg.append("rect").attr("x", 2660).attr("width", W - 2660).attr("height", H).attr("fill", "#f1f1f1");

const fmtKey = d3.timeFormat("%Y-%m-%d");
const weekKeys = d3.timeMonday.range(firstWeek, endWeek).map(fmtKey);

const x = d3.scaleBand().domain(weekKeys).range([75.5, 595.5]);
const step = x.bandwidth();
const cx = (k) => x(k) + step / 2;

series.forEach((rows, k) => {
  const g = svg.append("g")
    .attr("transform", "translate(" + (k % 4) * colW + "," + Math.floor(k / 4) * rowH + ")");

  const pt = priceTicks[k];
  const y = d3.scaleLinear().domain([pt[0], pt[pt.length - 1]]).range([346, 48]);
  const vt = volTicks[k];
  const yv = d3.scaleLinear().domain([0, vt[vt.length - 1]]).range([345, 287]);

  const data = rows.map((r, i) => ({
    key: weekKeys[i], o: r[0], h: r[1], l: r[2], c: r[3], v: r[4], up: r[3] >= r[0]
  }));

  // * GRID
  const grid = g.append("g")
    .attr("stroke", "#c9c9c9")
    .attr("stroke-width", 1.2)
    .attr("stroke-dasharray", "5,4");
  grid.selectAll("line.h").data(pt).join("line").attr("class", "h")
    .attr("x1", 77).attr("x2", 596)
    .attr("y1", (d) => y(d)).attr("y2", (d) => y(d));
  const vLines = [77].concat(monthKeys.map(cx), [596]);
  grid.selectAll("line.v").data(vLines).join("line").attr("class", "v")
    .attr("x1", (d) => d).attr("x2", (d) => d)
    .attr("y1", 48).attr("y2", 346);

  // * WEEKLY
  g.append("text")
    .attr("transform", "translate(57,170) rotate(-90)")
    .attr("text-anchor", "middle")
    .attr("font-size", 24)
    .attr("font-weight", "bold")
    .attr("fill", "#e3e3e3")
    .text("WEEKLY");

  // * VOLUME
  g.append("g").selectAll("rect").data(data).join("rect")
    .attr("x", (d) => x(d.key))
    .attr("y", (d) => yv(d.v))
    .attr("width", step)
    .attr("height", (d) => 345 - yv(d.v))
    .attr("fill", (d) => (d.up ? "#b5dfab" : "#f5c0c0"));

  const vAxis = g.append("g")
    .attr("transform", "translate(73,0)")
    .call(d3.axisLeft(yv).tickValues(vt).tickSize(7).tickPadding(4).tickFormat((d) => d + "M"));
  vAxis.select(".domain").remove();
  vAxis.selectAll("line").attr("stroke", "#aaa");
  vAxis.selectAll("text").attr("font-size", 14).attr("font-family", FONT).attr("fill", "#7a7a7a");

  // * CANDLES
  const candles = g.append("g").selectAll("g").data(data).join("g");
  candles.append("line")
    .attr("x1", (d) => cx(d.key)).attr("x2", (d) => cx(d.key))
    .attr("y1", (d) => y(d.h)).attr("y2", (d) => y(d.l))
    .attr("stroke", (d) => (d.up ? "#1f4f1f" : "#4f1212"))
    .attr("stroke-width", 1.4);
  candles.append("rect")
    .attr("x", (d) => cx(d.key) - 3)
    .attr("y", (d) => y(Math.max(d.o, d.c)))
    .attr("width", 6)
    .attr("height", (d) => Math.max(1.2, Math.abs(y(d.o) - y(d.c))))
    .attr("fill", (d) => (d.up ? "#46dc46" : "#dc2a1e"))
    .attr("stroke", (d) => (d.up ? "#1f4f1f" : "#4f1212"))
    .attr("stroke-width", 1);

  // * PRICE AXIS
  const pAxis = g.append("g")
    .attr("transform", "translate(607,0)")
    .call(d3.axisRight(y).tickValues(pt).tickSize(0).tickPadding(0)
      .tickFormat(d3.format(priceDecimals[k] ? ".2f" : "d")));
  pAxis.select(".domain").remove();
  pAxis.selectAll("text").attr("font-size", 14).attr("font-family", FONT).attr("fill", "#7a7a7a");

  // * MONTH AXIS
  const mAxis = g.append("g")
    .attr("transform", "translate(0,352)")
    .call(d3.axisBottom(x).tickValues(monthKeys).tickSize(0).tickPadding(0)
      .tickFormat((d, i) => monthLabels[i]));
  mAxis.select(".domain").remove();
  mAxis.selectAll("text").attr("font-size", 14).attr("font-weight", "bold")
    .attr("font-family", FONT).attr("fill", "#7d7d7d");

  // * LAST PRICE TAG
  const last = data[data.length - 1];
  const ly = y(last.c);
  const tag = g.append("g");
  const tagText = tag.append("text")
    .attr("x", 607).attr("y", ly).attr("dy", "0.35em")
    .attr("font-size", 14).attr("fill", "#333")
    .text(d3.format(".2f")(last.c));
  const tw = tagText.node().getComputedTextLength();
  tag.insert("rect", "text")
    .attr("x", 604).attr("y", ly - 9.5)
    .attr("width", tw + 9).attr("height", 19)
    .attr("fill", "#fbf54c");

  // * HEADER
  g.append("text").attr("x", 25).attr("y", 53)
    .attr("font-size", 42).attr("font-weight", "bold").attr("fill", "#808080")
    .text(tickers[k]);
  g.append("text").attr("x", 179).attr("y", 33)
    .attr("font-size", 16).attr("fill", "#5a5a5a")
    .text("Jun 11");
  const up = changes[k][0] === "+";
  g.append("text").attr("x", 495).attr("y", 33)
    .attr("text-anchor", "end")
    .attr("font-size", 19).attr("font-weight", "bold")
    .attr("fill", up ? "#4e9b3c" : "#c53d33")
    .text(changes[k]);
  g.append("text").attr("x", 643).attr("y", 34)
    .attr("text-anchor", "end")
    .attr("font-size", 20).attr("fill", "#8ab6e6")
    .text("\u00a9 finviz.com");
});
</script>
</body>
</html>
